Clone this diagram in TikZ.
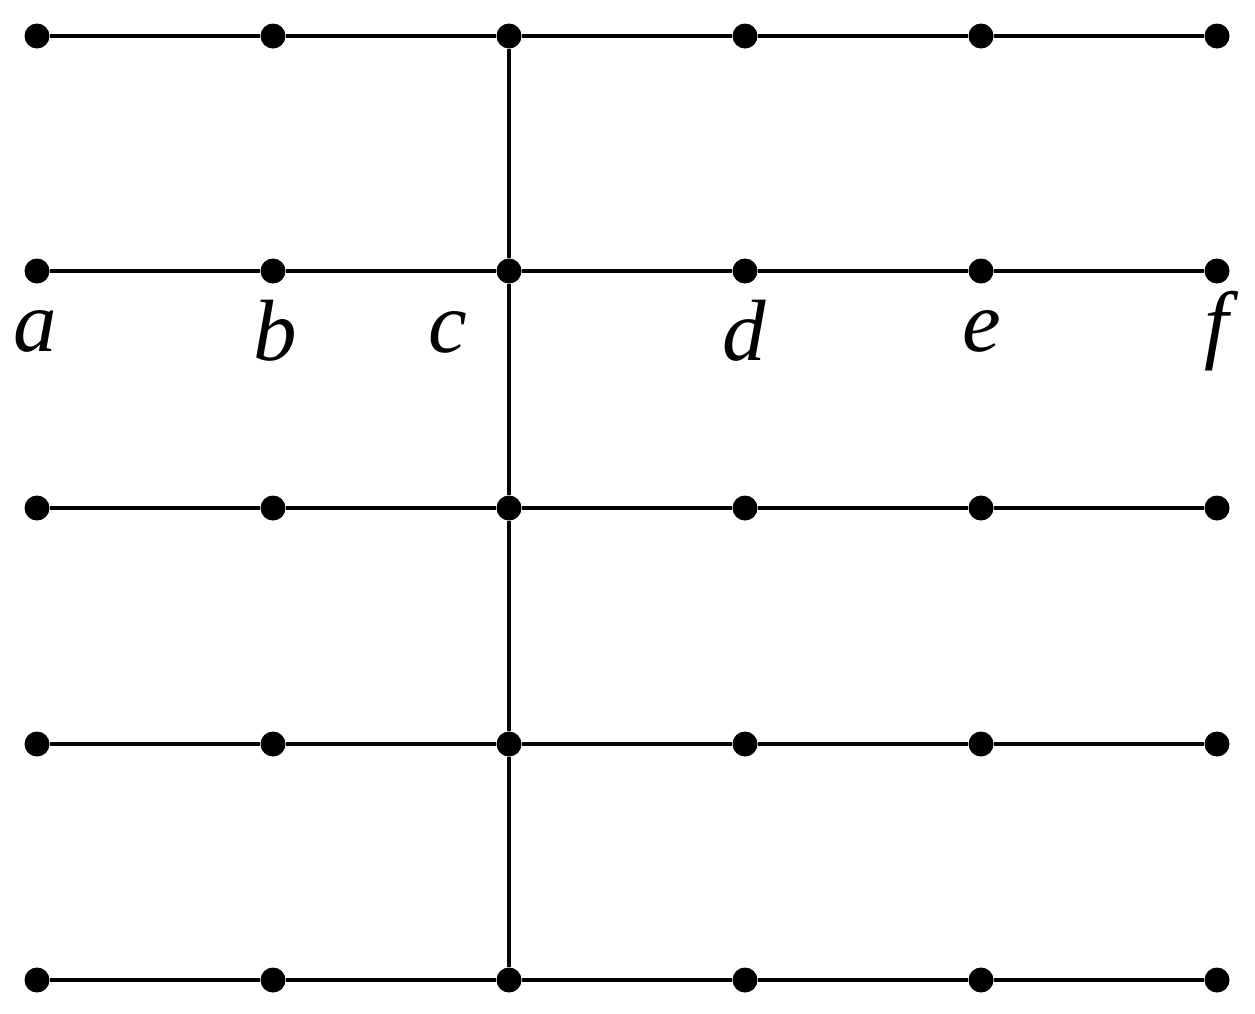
\documentclass[tikz,border=0pt]{standalone}
\usepackage{fontspec}
\setmainfont{Liberation Serif}
\begin{document}
\begin{tikzpicture}[x=1pt,y=-1pt,
  dot/.style={circle,fill=black,draw=none,inner sep=0pt,minimum size=25pt},
  edge/.style={line width=3.5pt,black},
  lbl/.style={anchor=base,inner sep=0pt,font=\fontsize{87}{90}\selectfont\itshape}]
\useasboundingbox (0,0) rectangle (1255,1013);
\foreach \r/\y in {1/36,2/271,3/508,4/744,5/980}{
  \foreach \c/\x in {1/37,2/273,3/509,4/745,5/981,6/1217}{
    \node[dot] (n\r\c) at (\x,\y) {};
  }
}
\foreach \r in {1,...,5}{
  \draw[edge] (n\r1) -- (n\r2) -- (n\r3) -- (n\r4) -- (n\r5) -- (n\r6);
}
\draw[edge] (n13) -- (n23) -- (n33) -- (n43) -- (n53);
\node[lbl] (la) at (35,351) {a};
\node[lbl] (lb) at (275,360) {b};
\node[lbl] (lc) at (448,352) {c};
\node[lbl] (ld) at (744,360) {d};
\node[lbl] (le) at (982,351) {e};
\node[lbl] (lf) at (1217,352) {f};
\end{tikzpicture}
\end{document}
